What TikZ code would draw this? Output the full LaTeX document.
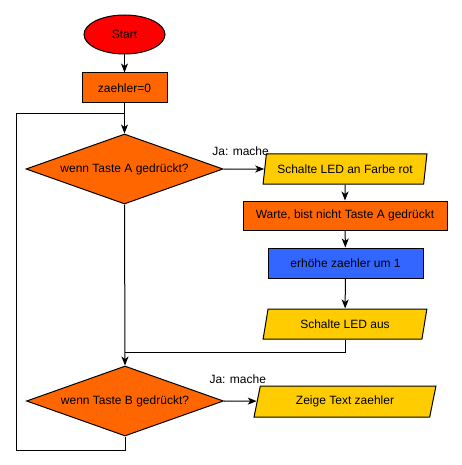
\documentclass[tikz,border=0pt]{standalone}
\usepackage{fontspec}
\setmainfont{Liberation Sans}
\usetikzlibrary{shapes.geometric,arrows.meta}
\definecolor{rotstart}{HTML}{FF0000}
\definecolor{orangebox}{HTML}{FF6600}
\definecolor{gelbio}{HTML}{FFCC00}
\definecolor{blaubox}{HTML}{3366FF}
\tikzset{
  kasten/.style={draw, fill=orangebox, minimum height=30pt, inner sep=0pt},
  frage/.style={draw, diamond, aspect=2.814, fill=orangebox, minimum width=197pt, minimum height=70pt, inner sep=0pt},
  ausgabe/.style={draw, trapezium, trapezium stretches=true, fill=gelbio,
    trapezium left angle=72, trapezium right angle=108, minimum height=30pt, inner sep=0pt},
}
\begin{document}
\begin{tikzpicture}[>={Stealth[length=9pt,width=7pt,inset=2.5pt]}, line width=1pt, x=1pt, y=-1pt,
  font=\fontsize{12}{14}\selectfont]
\useasboundingbox (0,0) rectangle (462,465);

\node[draw, ellipse, fill=rotstart, minimum width=81pt, minimum height=39pt, inner sep=0pt] (start) at (124.5,34.5) {Start};
\node[kasten, minimum width=85pt] (init) at (124.5,88) {zaehler=0};
\node[frage] (tasteA) at (124.5,169) {wenn Taste A gedrückt?};
\node[ausgabe, minimum width=164pt] (ledan) at (345,169) {Schalte LED an Farbe rot};
\node[kasten, minimum width=204pt, minimum height=29pt] (warte) at (345,215.5) {Warte, bist nicht Taste A gedrückt};
\node[kasten, fill=blaubox, minimum width=155pt] (plus) at (345.5,263) {erhöhe zaehler um 1};
\node[ausgabe, minimum width=164pt] (ledaus) at (345,324) {Schalte LED aus};
\node[frage] (tasteB) at (125,401) {wenn Taste B gedrückt?};
\node[ausgabe, minimum width=182pt, minimum height=31pt] (zeige) at (345,401.5) {Zeige Text zaehler};

\coordinate (rueck) at (16,450);
\coordinate (schleife) at (124.5,114);
\coordinate (zusammen) at (125,352);

\draw[->] (start) -- (init);
\draw[->] (init) -- (tasteA);
\draw (tasteB.south) |- (rueck) |- (schleife);
\draw[->] (tasteA.east) -- node[above=10pt, pos=.42]{Ja: mache} (ledan);
\draw[->] (ledan) -- (warte);
\draw[->] (warte) -- (plus);
\draw[->] (plus) -- (ledaus);
\draw (ledaus.south) |- (zusammen);
\draw[->] (tasteA.south) -- (tasteB.north);
\draw[->] (tasteB.east) -- node[above=14pt, pos=.42]{Ja: mache} (zeige);

\end{tikzpicture}
\end{document}
